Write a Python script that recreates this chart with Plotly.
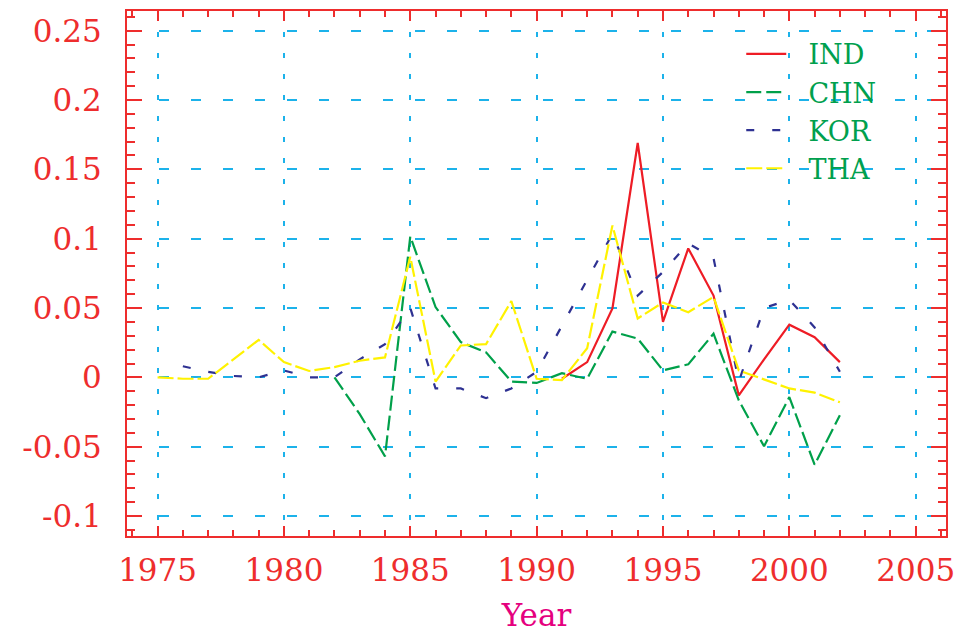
import plotly.graph_objects as go

# ---- data ----
ind_years = list(range(1991, 2003))
ind_vals = [-0.001, 0.011, 0.0497, 0.169, 0.040, 0.093, 0.059, -0.013, 0.013, 0.038, 0.029, 0.011]

chn_years = list(range(1982, 2003))
chn_vals = [0.0, -0.0265, -0.057, 0.1016, 0.0507, 0.0254, 0.018, -0.003, -0.004, 0.003, -0.001,
            0.033, 0.028, 0.005, 0.0094, 0.0315, -0.0166, -0.0497, -0.0142, -0.063, -0.0274]

kor_years = list(range(1976, 2003))
kor_vals = [0.008, 0.004, 0.001, 0.0, 0.005, 0.0, 0.0, 0.013, 0.024, 0.050, -0.008, -0.008,
            -0.015, -0.008, 0.004, 0.037, 0.070, 0.1035, 0.059, 0.076, 0.0966, 0.086, -0.003,
            0.050, 0.056, 0.036, 0.004]

tha_years = list(range(1975, 2003))
tha_vals = [0.0, -0.001, -0.001, 0.013, 0.027, 0.011, 0.0046, 0.0074, 0.012, 0.0144, 0.087,
            -0.003, 0.023, 0.024, 0.055, -0.001, -0.002, 0.021, 0.1095, 0.0425, 0.054, 0.047,
            0.058, 0.005, -0.0015, -0.008, -0.011, -0.018]

series_names = ["IND", "CHN", "KOR", "THA"]

y_tick_vals = [-0.1, -0.05, 0, 0.05, 0.1, 0.15, 0.2, 0.25]
y_tick_text = ["-0.1", "-0.05", "0", "0.05", "0.1", "0.15", "0.2", "0.25"]
x_tick_vals = [1975, 1980, 1985, 1990, 1995, 2000, 2005]
x_tick_text = ["1975", "1980", "1985", "1990", "1995", "2000", "2005"]

AXIS_RED = "#ee2d2d"
GRID_BLUE = "#1cb2ea"
FONT = "DejaVu Serif"
PAD = "\u00a0\u00a0"

fig = go.Figure()
fig.add_trace(go.Scatter(x=ind_years, y=ind_vals, mode="lines", name=PAD + series_names[0],
                         line=dict(color="#ee1c25", width=2.2)))
fig.add_trace(go.Scatter(x=chn_years, y=chn_vals, mode="lines", name=PAD + series_names[1],
                         line=dict(color="#00a04a", width=2.2, dash="15px,5px")))
fig.add_trace(go.Scatter(x=kor_years, y=kor_vals, mode="lines", name=PAD + series_names[2],
                         line=dict(color="#2e3192", width=2.2, dash="8px,18px")))
fig.add_trace(go.Scatter(x=tha_years, y=tha_vals, mode="lines", name=PAD + series_names[3],
                         line=dict(color="#fff200", width=2.2, dash="16px,4px")))

# the page body has an 8px margin, so the figure is sized/margined to compensate
fig.update_layout(
    width=956, height=625,
    margin=dict(l=119, r=18, t=3, b=97),
    paper_bgcolor="white", plot_bgcolor="white",
    showlegend=True,
    legend=dict(x=0.75, y=0.964, xanchor="left", yanchor="top",
                bgcolor="rgba(0,0,0,0)", borderwidth=0,
                font=dict(family=FONT, size=27, color="#00a04e"),
                itemwidth=40, tracegroupgap=0),
    xaxis=dict(
        range=[1973.79, 2006.2], automargin=False,
        tickmode="array", tickvals=x_tick_vals, ticktext=x_tick_text,
        ticks="inside", ticklen=10, tickwidth=2, tickcolor=AXIS_RED,
        showline=True, linecolor=AXIS_RED, linewidth=2, mirror="ticks",
        showgrid=True, gridcolor=GRID_BLUE, gridwidth=2, griddash="5px,16px",
        zeroline=False,
        tickfont=dict(family=FONT, size=31, color=AXIS_RED),
        ticklabelstandoff=6,
        minor=dict(dtick=1, tick0=1975, ticks="inside", ticklen=6, tickwidth=2,
                   tickcolor=AXIS_RED, showgrid=False),
        title=dict(text="Year", font=dict(family=FONT, size=31, color="#e5007e"), standoff=17),
    ),
    yaxis=dict(
        range=[-0.1144, 0.2642], automargin=False,
        tickmode="array", tickvals=y_tick_vals, ticktext=y_tick_text,
        ticks="inside", ticklen=15, tickwidth=2, tickcolor=AXIS_RED,
        showline=True, linecolor=AXIS_RED, linewidth=2, mirror="ticks",
        showgrid=True, gridcolor=GRID_BLUE, gridwidth=2, griddash="10px,22px",
        zeroline=False,
        tickfont=dict(family=FONT, size=31, color=AXIS_RED),
        ticklabelstandoff=17,
        minor=dict(dtick=0.01, tick0=0, ticks="inside", ticklen=8, tickwidth=2,
                   tickcolor=AXIS_RED, showgrid=False),
    ),
)

fig.write_html("out.html")
